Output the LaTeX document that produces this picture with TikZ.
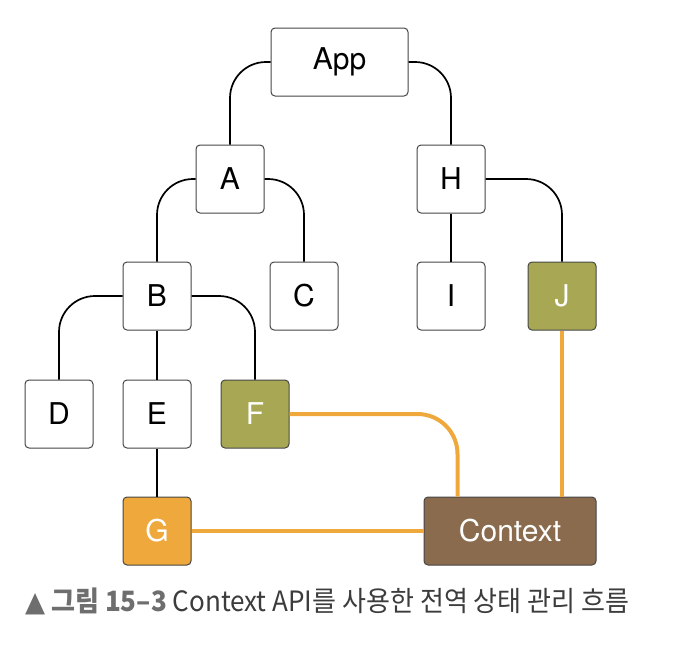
\documentclass[tikz,border=0pt]{standalone}
\usepackage{fontspec}
\setmainfont{TeX Gyre Heros}
\newfontfamily\krfont{Noto Sans CJK KR}
\newfontfamily\symfont{DejaVu Sans}
\usetikzlibrary{positioning}
\definecolor{olivebox}{RGB}{168,168,84}
\definecolor{orangebox}{RGB}{238,168,60}
\definecolor{brownbox}{RGB}{139,107,78}
\definecolor{boxline}{RGB}{70,70,70}
\definecolor{captiongray}{RGB}{110,110,110}
\definecolor{captiontext}{RGB}{60,60,60}
\tikzset{
  comp/.style={draw=boxline, line width=1pt, rounded corners=4pt, fill=white,
    minimum width=68pt, minimum height=68pt, inner sep=0pt,
    font=\fontsize{30}{30}\selectfont},
  olivecomp/.style={comp, fill=olivebox, text=white},
  link/.style={line width=1.7pt, rounded corners=36pt},
  ctxlink/.style={line width=4pt, draw=orangebox, rounded corners=40pt}
}
\begin{document}
\begin{tikzpicture}[x=1pt, y=-1pt]
    \useasboundingbox (0,0) rectangle (684,664);
    % tree of components
    \node[comp, minimum width=137pt] (App) at (339.5,62) {App};
    \node[comp] (A) at (230,179) {A};
    \node[comp] (H) at (451,179) {H};
    \node[comp] (B) at (157,296) {B};
    \node[comp] (C) at (304,296) {C};
    \node[comp] (I) at (451,296) {I};
    \node[olivecomp] (J) at (562,296) {J};
    \node[comp] (D) at (59,414) {D};
    \node[comp] (E) at (157,414) {E};
    \node[olivecomp] (F) at (255,414) {F};
    \node[comp, fill=orangebox, text=white] (G) at (157,531) {G};
    \node[comp, fill=brownbox, text=white, minimum width=172pt] (Ctx) at (510,531) {Context};
    % parent-child lines
    \draw[link] (App.west) -| (A.north);
    \draw[link] (App.east) -| (H.north);
    \draw[link] (A.west) -| (B.north);
    \draw[link] (A.east) -| (C.north);
    \draw[link] (H.south) -- (I.north);
    \draw[link] (H.east) -| (J.north);
    \draw[link] (B.west) -| (D.north);
    \draw[link] (B.south) -- (E.north);
    \draw[link] (B.east) -| (F.north);
    \draw[link] (E.south) -- (G.north);
    % context lines
    \coordinate (ctxin) at ([xshift=34pt]Ctx.north west);
    \draw[ctxlink] (F.east) -| (ctxin);
    \draw[ctxlink] (J.south) -- (J.south |- Ctx.north);
    \draw[ctxlink] (G.east) -- (Ctx.west);
    % caption
    \node[anchor=west, inner sep=0pt, text=captiontext] (cap) at (25,601)
      {\scalebox{0.93}[1]{\fontsize{28}{28}\selectfont\krfont{\color{captiongray}\bfseries{\symfont ▲} 그림 15–3} Context API를 사용한 전역 상태 관리 흐름}};
\end{tikzpicture}
\end{document}
